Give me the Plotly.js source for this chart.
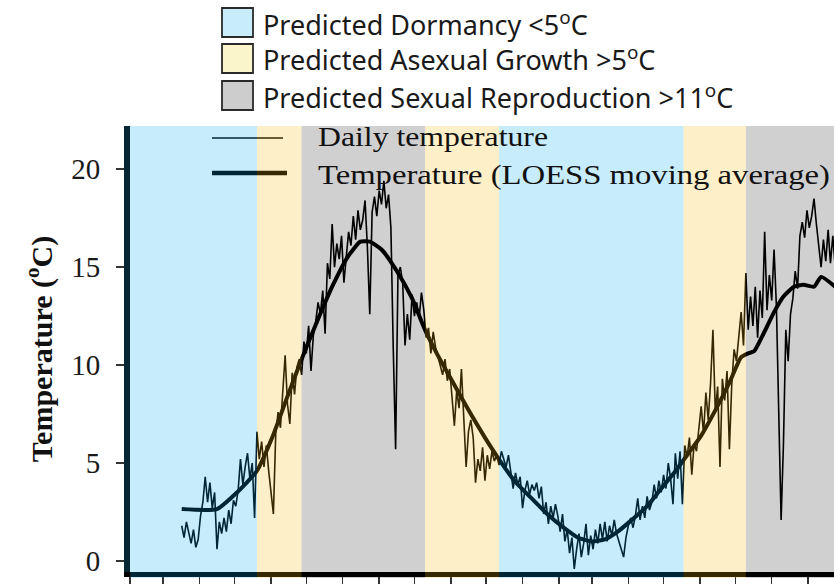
<!DOCTYPE html>
<html>
<head>
<meta charset="utf-8">
<script src="https://cdn.plot.ly/plotly-3.0.1.min.js"></script>
<style>
html,body{margin:0;padding:0;background:#fff;overflow:hidden}
#chart{width:834px;height:585px}
</style>
</head>
<body>
<div id="chart"></div>
<script>
// ---------------- DATA ----------------
// Daily temperature, one reading every 2 days starting 17 Mar 2013
const dailyStart = '2013-03-17';
const dailyStepDays = 2;
const dailyTemp = [
  1.8, 1.2, 2.0, 1.5, 0.9, 1.6, 0.7, 1.1, 2.3, 3.0,
  4.3, 3.0, 4.0, 2.7, 3.5, 0.6, 2.0, 1.4, 2.2, 1.5,
  2.6, 1.9, 3.1, 2.8, 3.6, 5.2, 3.9, 4.8, 5.5, 4.2,
  5.0, 2.2, 6.6, 5.2, 6.1, 4.8, 5.9, 4.6, 3.6, 2.4,
  6.5, 7.6, 6.8, 8.4, 10.5, 8.0, 7.0, 9.6, 8.5, 9.9,
  10.3, 9.5, 11.2, 10.6, 12.0, 9.7, 11.5, 12.2, 13.2, 12.6,
  13.8, 11.6, 15.2, 14.4, 17.2, 15.0, 16.2, 15.4, 16.6, 14.2,
  15.6, 16.8, 16.1, 17.6, 16.4, 17.9, 16.9, 17.4, 18.4, 16.0,
  12.6, 17.8, 18.6, 17.6, 18.9, 18.2, 19.4, 18.0, 18.7, 17.0,
  10.8, 5.7, 14.6, 15.0, 14.2, 11.0, 12.6, 11.3, 13.6, 12.5,
  13.2, 12.4, 13.7, 12.8, 11.4, 11.9, 10.6, 11.7, 10.9, 10.4,
  10.0, 9.5, 10.3, 9.2, 9.8, 8.2, 6.9, 8.7, 7.8, 9.8,
  7.4, 4.8, 6.6, 7.2, 6.3, 4.0, 5.2, 4.6, 5.8, 4.1,
  5.4, 4.7, 5.6, 5.1, 5.4, 4.9, 5.6, 5.2, 4.8, 5.4,
  4.4, 3.7, 4.5, 3.9, 4.3, 2.7, 3.6, 4.1, 3.4, 3.9,
  3.6, 4.0, 3.2, 3.8, 2.4, 3.0, 1.9, 2.8, 2.2, 2.9,
  2.3, 1.5, 2.4, 1.0, 1.6, 0.4, 1.2, -0.4, 0.6, 1.4,
  0.2, 0.9, 1.9, 0.3, 1.3, 0.6, 1.6, 0.9, 1.9, 1.1,
  2.0, 1.0, 1.8, 1.3, 2.1, 1.4, 1.0, 0.6, 0.2, 1.2,
  1.8, 2.2, 1.7, 2.3, 3.2, 2.1, 2.8, 2.2, 3.3, 2.6,
  3.0, 3.9, 3.2, 4.1, 3.5, 4.4, 3.7, 5.0, 4.2, 2.9,
  5.5, 4.2, 5.6, 2.9, 5.9, 5.3, 6.3, 4.4, 6.0, 5.6,
  6.8, 7.9, 6.5, 8.6, 7.2, 9.1, 11.8, 7.6, 8.9, 4.8,
  9.3, 8.2, 9.7, 5.7, 9.0, 10.8, 10.2, 11.6, 12.7, 11.0,
  14.7, 11.8, 13.5, 12.0, 14.0, 11.4, 13.8, 12.4, 16.8, 12.8,
  14.6, 13.3, 15.9, 13.0, 7.5, 2.1, 6.0, 11.8, 10.2, 12.6,
  13.4, 14.8, 13.9, 16.6, 17.3, 16.5, 17.9, 17.0, 17.6, 18.5,
  17.2, 16.1, 15.0, 16.4, 15.3, 16.9, 15.2, 16.6, 15.0
];

// LOESS moving average
const loessDates = [
  '2013-03-17','2013-04-16','2013-05-03','2013-05-20','2013-06-02','2013-06-15',
  '2013-06-27','2013-07-10','2013-07-23','2013-08-05','2013-08-16','2013-08-24',
  '2013-09-03','2013-09-16','2013-09-29','2013-10-10','2013-10-20','2013-11-02',
  '2013-11-17','2013-11-30','2013-12-13','2013-12-25','2014-01-07','2014-01-22',
  '2014-02-05','2014-02-17','2014-03-01','2014-03-12','2014-03-23','2014-04-04',
  '2014-04-17','2014-04-29','2014-05-10','2014-05-21','2014-06-02','2014-06-15',
  '2014-06-26','2014-07-06','2014-07-12','2014-07-17','2014-07-25','2014-08-03',
  '2014-08-11','2014-08-20','2014-08-28','2014-09-06','2014-09-12','2014-09-24'
];
const loessTemp = [
  2.65, 2.65, 3.5, 4.6, 6.3, 8.4,
  10.3, 12.2, 14.0, 15.5, 16.3, 16.3,
  15.9, 14.8, 13.4, 11.8, 10.6, 9.2,
  7.6, 6.3, 5.1, 4.1, 3.3, 2.4,
  1.7, 1.2, 1.0, 1.1, 1.5, 2.1,
  2.8, 3.7, 4.5, 5.4, 6.4, 7.8,
  9.1, 10.4, 10.6, 10.7, 11.6, 12.7,
  13.5, 14.0, 14.1, 14.0, 14.5, 14.0
];

// Predicted phases (background bands)
const phaseNames = [
  'Predicted Dormancy <5<sup>o</sup>C',
  'Predicted Asexual Growth >5<sup>o</sup>C',
  'Predicted Sexual Reproduction >11<sup>o</sup>C'
];
const bandStart = ['2013-02-01','2013-05-20','2013-06-27','2013-10-10','2013-12-12','2014-05-18','2014-07-10'];
const bandEnd   = ['2013-05-20','2013-06-27','2013-10-10','2013-12-12','2014-05-18','2014-07-10','2014-09-23'];
const bandPhase = [0, 1, 2, 1, 0, 1, 2];

const seriesNames = ['Daily temperature', 'Temperature (LOESS moving average)'];
const yTicks = [0, 5, 10, 15, 20];
const xRange = ['2013-02-01', '2014-09-23'];

// ---------------- STYLE / LAYOUT ----------------
const W = 834, H = 585;
const M = {l: 130, r: 0, t: 126, b: 13};
const PW = W - M.l - M.r, PH = H - M.t - M.b;
const px = x => (x - M.l) / PW;           // pixel -> paper x
const py = y => (H - M.b - y) / PH;       // pixel -> paper y

const bandOverlay = ['rgba(0,168,236,0.22)', 'rgba(245,182,5,0.22)', 'rgba(0,0,0,0.185)'];
const boxFill = ['#C8ECFA', '#FBF5CB', '#CDCDCD'];

function addDays(s, n) {
  const d = new Date(s + 'T00:00:00Z');
  d.setUTCDate(d.getUTCDate() + n);
  return d.toISOString().slice(0, 10);
}
const dailyDates = dailyTemp.map((_, i) => addDays(dailyStart, i * dailyStepDays));

const traces = [
  {x: dailyDates, y: dailyTemp, type: 'scatter', mode: 'lines', name: seriesNames[0],
   line: {color: '#000', width: 1.6}, hoverinfo: 'skip'},
  {x: loessDates, y: loessTemp, type: 'scatter', mode: 'lines', name: seriesNames[1],
   line: {color: '#000', width: 4, shape: 'spline', smoothing: 0.5}, hoverinfo: 'skip'}
];

const shapes = [];
// inner legend sample lines (drawn under the translucent bands)
shapes.push({type: 'line', xref: 'paper', yref: 'paper', layer: 'above',
  x0: px(212), x1: px(283), y0: py(138), y1: py(138), line: {color: '#000', width: 1.3}});
shapes.push({type: 'line', xref: 'paper', yref: 'paper', layer: 'above',
  x0: px(212), x1: px(287), y0: py(173), y1: py(173), line: {color: '#000', width: 4.5}});
// translucent phase bands over everything in the plot
bandStart.forEach((s, i) => {
  shapes.push({type: 'rect', xref: 'x', yref: 'paper', layer: 'above',
    x0: s, x1: bandEnd[i], y0: py(578), y1: 1,
    fillcolor: bandOverlay[bandPhase[i]], line: {width: 0}});
});
// top legend boxes
const boxTop = [8, 44, 81];
phaseNames.forEach((n, i) => {
  shapes.push({type: 'rect', xref: 'paper', yref: 'paper', layer: 'above',
    x0: px(222), x1: px(253), y0: py(boxTop[i] + 29), y1: py(boxTop[i]),
    fillcolor: boxFill[i], line: {color: '#2a2a2a', width: 1.8}});
});

const annotations = [];
phaseNames.forEach((n, i) => {
  annotations.push({xref: 'paper', yref: 'paper', x: px(261), y: py(boxTop[i] + 15),
    xanchor: 'left', yanchor: 'middle', align: 'left', showarrow: false, text: n,
    font: {family: 'Noto Sans, Open Sans, sans-serif', size: 27, color: '#1a1a1a'}});
});
annotations.push({xref: 'paper', yref: 'paper', x: px(316), y: py(137),
  xanchor: 'left', yanchor: 'middle', align: 'left', showarrow: false, text: seriesNames[0],
  font: {family: 'Liberation Serif, Times New Roman, serif', size: 28, color: '#111'}});
annotations.push({xref: 'paper', yref: 'paper', x: px(316), y: py(174),
  xanchor: 'left', yanchor: 'middle', align: 'left', showarrow: false, text: seriesNames[1],
  font: {family: 'Liberation Serif, Times New Roman, serif', size: 28, color: '#111'}});

const layout = {
  width: W, height: H,
  margin: M,
  paper_bgcolor: '#fff', plot_bgcolor: '#fff',
  showlegend: false,
  xaxis: {
    type: 'date', range: xRange, showgrid: false, zeroline: false,
    showline: true, linecolor: '#000', linewidth: 5,
    ticks: 'outside', tick0: '2013-02-01', dtick: 'M1', ticklen: 7, tickwidth: 1.5, tickcolor: '#333',
    showticklabels: false
  },
  yaxis: {
    range: [-0.56, 22.2], showgrid: false, zeroline: false,
    showline: true, linecolor: '#072633', linewidth: 6,
    ticks: 'outside', tickmode: 'array', tickvals: yTicks, ticktext: yTicks.map(String),
    ticklen: 8, tickwidth: 1.5, tickcolor: '#333', ticklabelstandoff: 10,
    tickfont: {family: 'Liberation Serif, Times New Roman, serif', size: 29, color: '#1a1a1a'},
    title: {text: 'Temperature (<sup>o</sup>C)', standoff: 12,
      font: {family: 'Liberation Serif, Times New Roman, serif', size: 30, color: '#111', weight: 'bold'}}
  },
  shapes: shapes,
  annotations: annotations
};

Plotly.newPlot('chart', traces, layout, {staticPlot: true, displayModeBar: false}).then(gd => {
  const stretch = {'Daily temperature': 230, 'Temperature (LOESS moving average)': 512};
  gd.querySelectorAll('.annotation-text').forEach(t => {
    const w = stretch[t.textContent];
    if (w) { t.setAttribute('textLength', w); t.setAttribute('lengthAdjust', 'spacingAndGlyphs'); }
  });
});
</script>
</body>
</html>
